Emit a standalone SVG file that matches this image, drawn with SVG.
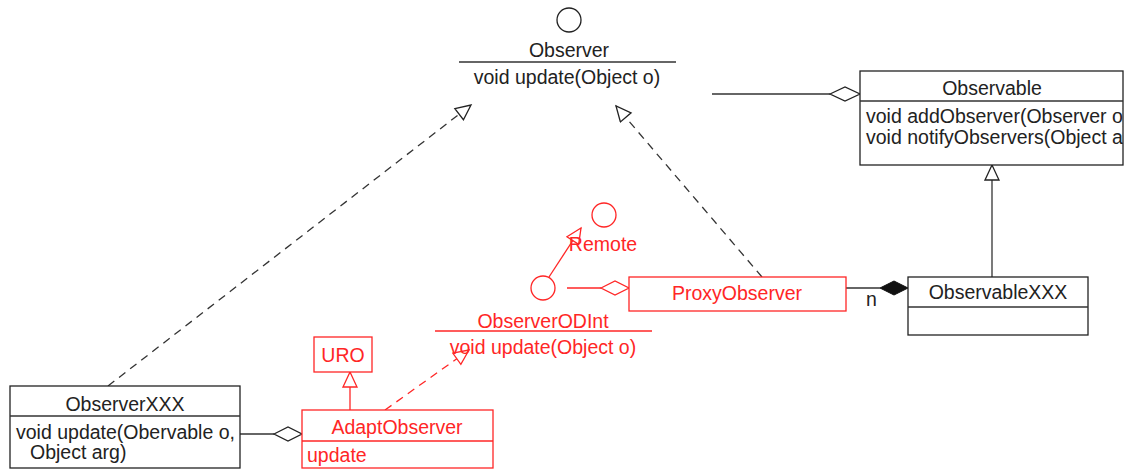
<svg xmlns="http://www.w3.org/2000/svg" width="1125" height="469" viewBox="0 0 1125 469">
<style>
text{font-family:"Liberation Sans",Arial,sans-serif;font-size:19.5px;fill:#222}
.r text,text.r{fill:#ff2626}
.c{text-anchor:middle}
.box{fill:#fff;stroke:#222;stroke-width:1.3}
.rbox{fill:#fff;stroke:#ff2626;stroke-width:1.3}
.ln{stroke:#333;stroke-width:1.3;fill:none}
.rln{stroke:#ff2626;stroke-width:1.3;fill:none}
.dash{stroke-dasharray:8 6}
</style>
<defs>
<marker id="triK" markerUnits="userSpaceOnUse" markerWidth="20" markerHeight="18" refX="17" refY="8" orient="auto">
<path d="M2,1 L17,8 L2,15 Z" fill="#fff" stroke="#222" stroke-width="1.3"/>
</marker>
<marker id="triR" markerUnits="userSpaceOnUse" markerWidth="20" markerHeight="18" refX="17" refY="8" orient="auto">
<path d="M2,1 L17,8 L2,15 Z" fill="#fff" stroke="#ff2626" stroke-width="1.3"/>
</marker>
<clipPath id="obsClip"><rect x="860" y="71" width="263" height="94"/></clipPath>
</defs>

<g id="connectors">
<line class="ln" x1="712" y1="94" x2="830" y2="94"/>
<polygon points="830,94 845,87 860,94 845,101" fill="#fff" stroke="#222" stroke-width="1.3"/>
<line class="ln" x1="992" y1="277" x2="992" y2="165" marker-end="url(#triK)"/>
<line class="ln" x1="846" y1="288" x2="880" y2="288"/>
<polygon points="880,288 894,281 908,288 894,295" fill="#111" stroke="#111" stroke-width="1"/>
<text x="866" y="306">n</text>
<line class="ln dash" x1="762" y1="277" x2="616" y2="106" marker-end="url(#triK)"/>
<line class="ln dash" x1="108" y1="386" x2="471" y2="105" marker-end="url(#triK)"/>
<line class="ln" x1="240" y1="434" x2="274" y2="434"/>
<polygon points="274,434 288,427 302,434 288,441" fill="#fff" stroke="#222" stroke-width="1.3"/>
<line class="rln" x1="350" y1="410" x2="350" y2="372" marker-end="url(#triR)"/>
<line class="rln dash" x1="385" y1="410" x2="469" y2="350" marker-end="url(#triR)"/>
<line class="rln" x1="549" y1="277" x2="581" y2="228" marker-end="url(#triR)"/>
<line class="rln" x1="567" y1="288" x2="601" y2="288"/>
<polygon points="601,288 615,281 629,288 615,295" fill="#fff" stroke="#ff2626" stroke-width="1.3"/>
</g>

<g id="Observer">
<circle cx="569" cy="20" r="12" fill="#fff" stroke="#222" stroke-width="1.3"/>
<text class="c" x="569" y="57">Observer</text>
<line class="ln" x1="459" y1="62" x2="676" y2="62"/>
<text class="c" x="567" y="84">void update(Object o)</text>
</g>

<g id="Observable">
<rect class="box" x="860" y="71" width="263" height="94"/>
<line class="ln" x1="860" y1="101" x2="1123" y2="101"/>
<text class="c" x="992" y="95">Observable</text>
<g clip-path="url(#obsClip)">
<text x="866" y="123">void addObserver(Observer o)</text>
<text x="866" y="144">void notifyObservers(Object arg)</text>
</g>
</g>

<g id="ObservableXXX">
<rect class="box" x="908" y="277" width="180" height="58"/>
<line class="ln" x1="908" y1="307" x2="1088" y2="307"/>
<text class="c" x="998" y="299">ObservableXXX</text>
</g>

<g id="ProxyObserver" class="r">
<rect class="rbox" x="629" y="277" width="217" height="34"/>
<text class="c" x="737" y="300">ProxyObserver</text>
</g>

<g id="Remote" class="r">
<circle cx="604" cy="215" r="12" fill="none" stroke="#ff2626" stroke-width="1.3"/>
<text class="c" x="603" y="251">Remote</text>
</g>

<g id="ObserverODInt" class="r">
<circle cx="543" cy="288" r="12" fill="#fff" stroke="#ff2626" stroke-width="1.3"/>
<text class="c" x="543" y="328">ObserverODInt</text>
<line class="rln" x1="435" y1="331" x2="652" y2="331"/>
<text class="c" x="543" y="354">void update(Object o)</text>
</g>

<g id="URO" class="r">
<rect class="rbox" x="314" y="337" width="58" height="35"/>
<text class="c" x="343" y="362">URO</text>
</g>

<g id="AdaptObserver" class="r">
<rect class="rbox" x="302" y="410" width="191" height="58"/>
<line class="rln" x1="302" y1="441" x2="493" y2="441"/>
<text class="c" x="397" y="434">AdaptObserver</text>
<text x="307" y="462">update</text>
</g>

<g id="ObserverXXX">
<rect class="box" x="10" y="386" width="230" height="82"/>
<line class="ln" x1="10" y1="416" x2="240" y2="416"/>
<text class="c" x="125" y="411">ObserverXXX</text>
<text x="16" y="439">void update(Obervable o,</text>
<text x="30" y="459">Object arg)</text>
</g>
</svg>
